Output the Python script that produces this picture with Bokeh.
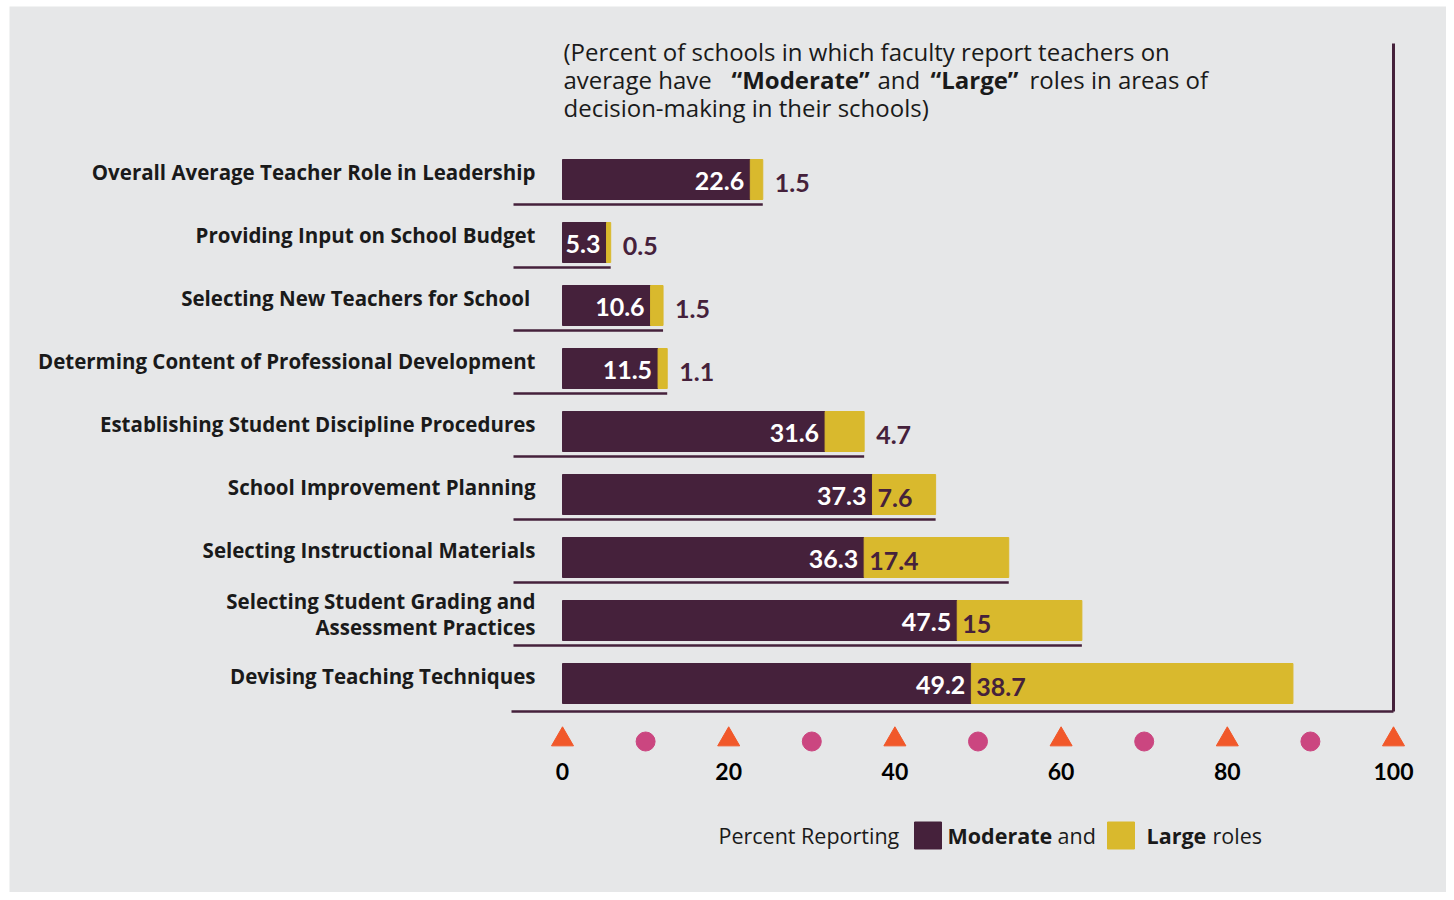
from bokeh.plotting import figure
from bokeh.models import Range1d, ColumnDataSource
from bokeh.core.properties import value
from bokeh.embed import file_html
from bokeh.resources import INLINE

categories = [
    "Overall Average Teacher Role in Leadership",
    "Providing Input on School Budget",
    "Selecting New Teachers for  School",
    "Determing Content of Professional Development",
    "Establishing Student Discipline Procedures",
    "School Improvement Planning",
    "Selecting Instructional Materials",
    "Selecting Student Grading and\nAssessment Practices",
    "Devising Teaching Techniques",
]
moderate = [22.6, 5.3, 10.6, 11.5, 31.6, 37.3, 36.3, 47.5, 49.2]
large = [1.5, 0.5, 1.5, 1.1, 4.7, 7.6, 17.4, 15, 38.7]
major_ticks = [0, 20, 40, 60, 80, 100]
minor_ticks = [10, 30, 50, 70, 90]

DARK = "#45213b"
YELLOW = "#d9b92d"
ORANGE = "#f1582a"
MAGENTA = "#cb4680"
BG = "#e6e7e8"
TFONT = value("Open Sans")
NFONT = value("Lato")

W, H = 1446, 892
BL, BT = 9, 6      # white border left / top
PX = 8.31          # pixels per percentage point
X0PAGE = 562       # image x of 0 %
ROW = 63.0         # pixels per row
Y0PAGE = 179       # image y of first row centre


def px2x(px):
    return (px - X0PAGE) / PX


def py2y(py):
    return (py - Y0PAGE) / ROW


p = figure(width=W, height=H, output_backend="svg", toolbar_location=None,
           x_range=Range1d(px2x(BL), px2x(W)),
           y_range=Range1d(py2y(H), py2y(BT)),
           x_axis_location=None, y_axis_location=None,
           min_border_left=BL, min_border_top=BT, min_border_right=0, min_border_bottom=0,
           background_fill_color=BG, border_fill_color="white",
           outline_line_color=None)
p.grid.visible = False

n = len(categories)
idx = list(range(n))
total = [m + l for m, l in zip(moderate, large)]
src = ColumnDataSource(dict(y=idx, m=moderate, l=large, t=total))

bh = 40 / ROW
p.hbar(y="y", left=0, right="m", height=bh, color=DARK, source=src)
p.hbar(y="y", left="m", right="t", height=bh, color=YELLOW, source=src)

# underlines
ul_y = [i + 25 / ROW for i in idx[:-1]]
p.segment(x0=[px2x(513)] * (n - 1), y0=ul_y, x1=total[:-1], y1=ul_y,
          line_color=DARK, line_width=2.5)
base_y = (n - 1) + 28 / ROW
p.segment(x0=[px2x(511)], y0=[base_y], x1=[major_ticks[-1]], y1=[base_y],
          line_color=DARK, line_width=2.5)
p.segment(x0=[major_ticks[-1]], y0=[py2y(43)], x1=[major_ticks[-1]], y1=[base_y],
          line_color=DARK, line_width=3)

# category labels
lx, ly, lt = [], [], []
for i, c in enumerate(categories):
    parts = c.split("\n")
    if len(parts) == 1:
        lx.append(px2x(535)); ly.append(i - 8 / ROW); lt.append(c)
    else:
        for k, s in enumerate(parts):
            lx.append(px2x(535)); ly.append(i - 20 / ROW + k * 26 / ROW); lt.append(s)
p.text(x=lx, y=ly, text=lt, text_align="right", text_baseline="middle",
       text_font=TFONT, text_font_style="bold", text_font_size="20.5px",
       text_color="#1a1a1a")

# moderate value labels (white, inside)
p.text(x=[m - 6 / PX for m in moderate], y=[i + 1 / ROW for i in idx],
       text=[f"{m:g}" for m in moderate], text_align="right", text_baseline="middle",
       text_font=NFONT, text_font_style="bold", text_font_size="25px", text_color="white")

# large value labels
vx, vy, vt = [], [], []
for i, (m, l, t) in enumerate(zip(moderate, large, total)):
    if l >= 7:
        vx.append(m + 5 / PX)
    else:
        vx.append(t + 12 / PX)
    vy.append(i + 3 / ROW)
    vt.append(f"{l:g}")
p.text(x=vx, y=vy, text=vt, text_align="left", text_baseline="middle",
       text_font=NFONT, text_font_style="bold", text_font_size="25px", text_color=DARK)

# tick markers and labels
p.scatter(x=major_ticks, y=[py2y(739)] * len(major_ticks), marker="triangle",
          size=22, color=ORANGE)
p.scatter(x=minor_ticks, y=[py2y(741)] * len(minor_ticks), marker="circle",
          size=19, color=MAGENTA)
p.text(x=major_ticks, y=[py2y(771)] * len(major_ticks), text=[str(t) for t in major_ticks],
       text_align="center", text_baseline="middle", text_font=NFONT,
       text_font_style="bold", text_font_size="23px", text_color="black")

# subtitle (mixed weight)
sub = [
    (563, 51, "(Percent of schools in which faculty report teachers on", "normal"),
    (563, 79, "average have", "normal"),
    (731, 79, "\u201cModerate\u201d", "bold"),
    (877, 79, "and", "normal"),
    (930, 79, "\u201cLarge\u201d", "bold"),
    (1029, 79, "roles in areas of", "normal"),
    (563, 107, "decision-making in their schools)", "normal"),
]
for x_, y_, t_, st in sub:
    p.text(x=[px2x(x_)], y=[py2y(y_)], text=[t_], text_align="left",
           text_baseline="middle", text_font=TFONT, text_font_style=st,
           text_font_size="24px", text_color="#1a1a1a")

# legend
ly_ = py2y(835)
p.rect(x=[px2x(927.5), px2x(1120.5)], y=[ly_, ly_], width=27 / PX, height=27 / ROW,
       color=[DARK, YELLOW])
leg = [
    (718, "Percent Reporting", "normal"),
    (947, "Moderate", "bold"),
    (1057, "and", "normal"),
    (1146, "Large", "bold"),
    (1212, "roles", "normal"),
]
for x_, t_, st in leg:
    p.text(x=[px2x(x_)], y=[ly_], text=[t_], text_align="left", text_baseline="middle",
           text_font=TFONT, text_font_style=st, text_font_size="21.5px", text_color="#1a1a1a")

open("out.html", "w").write(file_html(p, INLINE))
